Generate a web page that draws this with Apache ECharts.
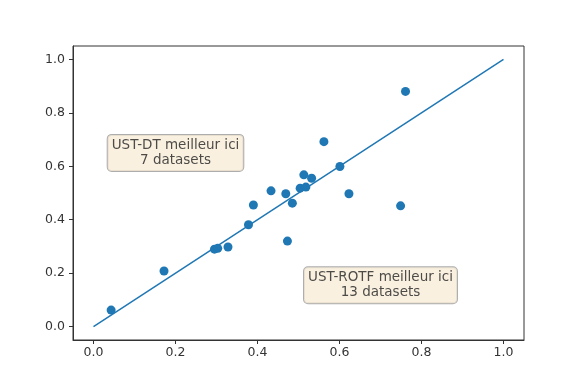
<!DOCTYPE html>
<html><head><meta charset="utf-8">
<script src="https://cdn.jsdelivr.net/npm/echarts@6/dist/echarts.min.js"></script>
<style>html,body{margin:0;padding:0;background:#fff}#c{width:582px;height:388px}</style>
</head><body><div id="c"></div>
<script>
const xVals = [0.043,0.172,0.295,0.303,0.328,0.378,0.390,0.433,0.469,0.473,0.485,0.504,0.518,0.513,0.532,0.562,0.601,0.623,0.749,0.761];
const yVals = [0.062,0.208,0.290,0.293,0.298,0.381,0.455,0.508,0.497,0.320,0.462,0.518,0.522,0.568,0.555,0.692,0.599,0.497,0.452,0.880];
const diagX = [0, 1];
const diagY = [0, 1];
const tickValues = [0, 0.2, 0.4, 0.6, 0.8, 1.0];
const boxTexts = ['UST-DT meilleur ici\n7 datasets', 'UST-ROTF meilleur ici\n13 datasets'];
const boxX = [0.2, 0.7];
const boxY = [0.65, 0.155];

const blue = '#1f77b4';
const chart = echarts.init(document.getElementById('c'));
const axisCommon = {
  type: 'value', min: -0.05, max: 1.05,
  splitLine: {show: false},
  axisLine: {show: true, onZero: false, lineStyle: {color: '#333', width: 1}},
  axisTick: {show: true, inside: false, length: 4, customValues: tickValues, lineStyle: {color: '#333'}},
  axisLabel: {customValues: tickValues, formatter: v => v.toFixed(1), color: '#333', fontFamily: 'DejaVu Sans', fontSize: 12.5, margin: 6}
};
chart.setOption({
  animation: false,
  grid: {left: 73, right: 58, top: 46, bottom: 48, show: true, borderColor: '#333', borderWidth: 1, containLabel: false},
  xAxis: Object.assign({}, axisCommon),
  yAxis: Object.assign({}, axisCommon, {axisLabel: Object.assign({}, axisCommon.axisLabel, {margin: 8})}),
  series: [
    {type: 'line', data: diagX.map((x, i) => [x, diagY[i]]), showSymbol: false, lineStyle: {color: blue, width: 1.5}, z: 2},
    {type: 'scatter', data: xVals.map((x, i) => [x, yVals[i]]), symbolSize: 9, itemStyle: {color: blue, opacity: 1}, z: 3},
    {type: 'scatter', data: boxX.map((x, i) => ({value: [x, boxY[i]], label: {formatter: boxTexts[i]}})), symbolSize: 0, z: 5,
      label: {show: true, position: 'inside', color: '#222', fontFamily: 'DejaVu Sans', fontSize: 13.5, lineHeight: 15, align: 'center',
        backgroundColor: '#f8ecd8', borderColor: '#999', borderWidth: 1, borderRadius: 4, padding: [3, 4, 3, 4]}}
  ]
});
</script></body></html>
